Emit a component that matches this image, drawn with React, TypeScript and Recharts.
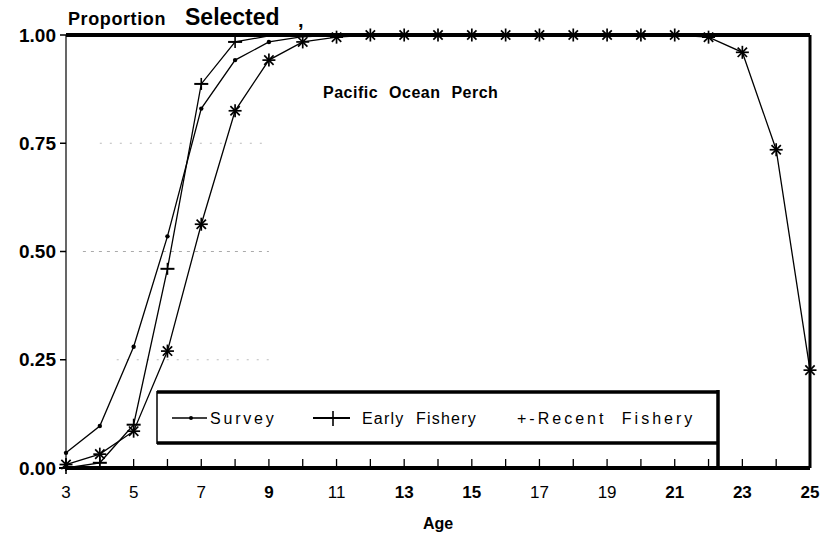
import React from 'react';
import { LineChart, Line, XAxis, YAxis, ReferenceLine, Legend } from 'recharts';

const ages = [3, 4, 5, 6, 7, 8, 9, 10, 11, 12, 13, 14, 15, 16, 17, 18, 19, 20, 21, 22, 23, 24, 25];
const survey = [0.035, 0.097, 0.28, 0.535, 0.83, 0.942, 0.984, 0.996, 1, 1, 1, 1, 1, 1, 1, 1, 1, 1, 1, 1, 1, 1, 1];
const earlyFishery = [0.0, 0.012, 0.1, 0.46, 0.887, 0.984, 0.998, 1, 1, 1, 1, 1, 1, 1, 1, 1, 1, 1, 1, 1, 1, 1, 1];
const recentFishery = [0.008, 0.032, 0.085, 0.27, 0.563, 0.825, 0.942, 0.984, 0.995, 1, 1, 1, 1, 1, 1, 1, 1, 1, 1, 0.995, 0.96, 0.735, 0.226];
const yTicks = [0, 0.25, 0.5, 0.75, 1];
const boldAgeLabels = [9, 13, 15, 21, 23, 25];

const data = ages.map((age, i) => ({
  age,
  survey: survey[i],
  early: earlyFishery[i],
  recent: recentFishery[i],
}));

const FONT = '"Liberation Sans", Arial, Helvetica, sans-serif';

const SurveyDot = (props: any) => {
  const { cx, cy, value, index } = props;
  if (value >= 0.99 || cx == null) return <g key={`s${index}`} />;
  return <circle key={`s${index}`} cx={cx} cy={cy} r={2.2} fill="#000" />;
};

const PlusDot = (props: any) => {
  const { cx, cy, value, index } = props;
  if (value >= 0.99 || cx == null) return <g key={`e${index}`} />;
  return (
    <g key={`e${index}`}>
      <line x1={cx - 7} x2={cx + 7} y1={cy} y2={cy} stroke="#000" strokeWidth={2} />
      <line x1={cx} x2={cx} y1={cy - 6} y2={cy + 6} stroke="#000" strokeWidth={1.6} />
    </g>
  );
};

const StarDot = (props: any) => {
  const { cx, cy, index } = props;
  if (cx == null) return <g key={`r${index}`} />;
  const r = 6.5;
  const d = r * 0.72;
  return (
    <g key={`r${index}`} stroke="#000" strokeWidth={1.7}>
      <line x1={cx - r} x2={cx + r} y1={cy} y2={cy} />
      <line x1={cx} x2={cx} y1={cy - r} y2={cy + r} />
      <line x1={cx - d} x2={cx + d} y1={cy - d} y2={cy + d} />
      <line x1={cx - d} x2={cx + d} y1={cy + d} y2={cy - d} />
    </g>
  );
};

const XTick = (props: any) => {
  const { x, y, payload } = props;
  const v = payload.value;
  const show = v % 2 === 1;
  return (
    <g>
      <line x1={x} x2={x} y1={y - 9} y2={y} stroke="#000" strokeWidth={1.3} />
      {show && (
        <text
          x={x}
          y={y + 30}
          textAnchor="middle"
          fontSize={17}
          fontWeight={boldAgeLabels.includes(v) ? 700 : 400}
          fill="#000"
          fontFamily={FONT}
        >
          {v}
        </text>
      )}
    </g>
  );
};

const LegendBox = () => (
  <svg width={575} height={86} style={{ display: 'block', overflow: 'visible' }}>
    <line x1={7} x2={569} y1={6} y2={6} stroke="#000" strokeWidth={3.5} />
    <line x1={7} x2={7} y1={5} y2={58} stroke="#000" strokeWidth={1.5} />
    <line x1={7} x2={569} y1={57} y2={57} stroke="#000" strokeWidth={3.5} />
    <line x1={568} x2={568} y1={4} y2={82} stroke="#000" strokeWidth={3.5} />
    <line x1={22} x2={57} y1={32} y2={32} stroke="#000" strokeWidth={1.6} />
    <circle cx={41} cy={32} r={2} fill="#000" />
    <text x={60} y={38} fontSize={16} fill="#000" fontFamily={FONT} letterSpacing={2.8}>
      Survey
    </text>
    <line x1={163} x2={200} y1={32} y2={32} stroke="#000" strokeWidth={2} />
    <line x1={183} x2={183} y1={25} y2={40} stroke="#000" strokeWidth={1.6} />
    <text x={212} y={38} fontSize={16} fill="#000" fontFamily={FONT} letterSpacing={1.2} wordSpacing={6}>
      Early Fishery
    </text>
    <text x={367} y={38} fontSize={16} fill="#000" fontFamily={FONT} letterSpacing={3} wordSpacing={8}>
      +-Recent Fishery
    </text>
  </svg>
);

export default function App() {
  return (
    <div style={{ position: 'absolute', left: 0, top: 0, width: 823, height: 536, background: '#fff' }}>
      <LineChart
        width={823}
        height={536}
        data={data}
        margin={{ top: 35, right: 13, left: 6, bottom: 0 }}
      >
        <XAxis
          dataKey="age"
          type="number"
          domain={[3, 25]}
          ticks={ages}
          interval={0}
          height={68}
          tickSize={0}
          tickMargin={0}
          tick={<XTick />}
          axisLine={{ stroke: '#000', strokeWidth: 4 }}
          tickLine={false}
          label={{ value: 'Age', position: 'insideBottom', offset: 7, fontSize: 16, fontWeight: 700, fill: '#000', fontFamily: FONT }}
        />
        <YAxis
          type="number"
          domain={[0, 1]}
          ticks={yTicks}
          width={60}
          tickSize={6}
          tickMargin={4}
          tickFormatter={(v: number) => v.toFixed(2)}
          tick={{ fontSize: 19, fontWeight: 700, fill: '#000', fontFamily: FONT }}
          axisLine={{ stroke: '#000', strokeWidth: 1.2 }}
          tickLine={{ stroke: '#000', strokeWidth: 1.5 }}
        />
        <ReferenceLine segment={[{ x: 4, y: 0.75 }, { x: 9, y: 0.75 }]} stroke="#bbb" strokeDasharray="2 8" />
        <ReferenceLine segment={[{ x: 3.5, y: 0.5 }, { x: 9, y: 0.5 }]} stroke="#aaa" strokeDasharray="3 5" />
        <ReferenceLine segment={[{ x: 4.5, y: 0.25 }, { x: 9, y: 0.25 }]} stroke="#bbb" strokeDasharray="2 8" />
        <Line
          dataKey="survey"
          stroke="#000"
          strokeWidth={1.3}
          dot={SurveyDot}
          isAnimationActive={false}
        />
        <Line
          dataKey="early"
          stroke="#000"
          strokeWidth={1.3}
          dot={PlusDot}
          isAnimationActive={false}
        />
        <Line
          dataKey="recent"
          stroke="#000"
          strokeWidth={1.3}
          dot={StarDot}
          isAnimationActive={false}
        />
        <ReferenceLine y={1} stroke="#000" strokeWidth={4} />
        <ReferenceLine x={25} stroke="#000" strokeWidth={3} />
        <Legend
          layout="horizontal"
          verticalAlign="middle"
          align="center"
          content={() => <LegendBox />}
          wrapperStyle={{ position: 'absolute', left: 150, top: 386, width: 575, height: 86 }}
        />
      </LineChart>
      <svg
        width={823}
        height={120}
        style={{ position: 'absolute', left: 0, top: 0, pointerEvents: 'none' }}
      >
        <text x={68} y={25} fontSize={18} fontWeight={700} fill="#000" fontFamily={FONT} letterSpacing={0.6}>
          Proportion
        </text>
        <text x={185} y={25} fontSize={23} fontWeight={700} fill="#000" fontFamily={FONT}>
          Selected
        </text>
        <text x={298} y={27} fontSize={20} fontWeight={700} fill="#000" fontFamily={FONT}>
          ,
        </text>
        <text x={323} y={98} fontSize={16} fontWeight={700} fill="#000" fontFamily={FONT} wordSpacing={6} letterSpacing={0.5}>
          Pacific Ocean Perch
        </text>
      </svg>
    </div>
  );
}
